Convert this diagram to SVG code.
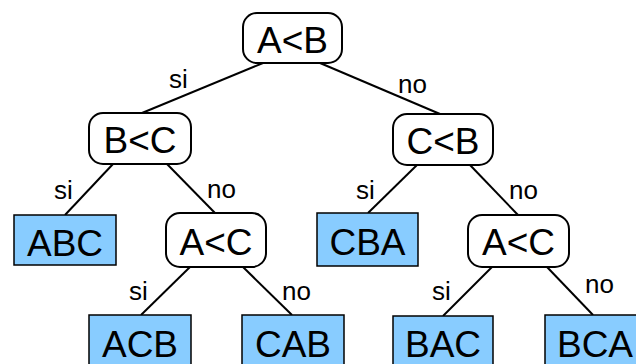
<svg xmlns="http://www.w3.org/2000/svg" width="636" height="364" viewBox="0 0 636 364">
<style>
.dec{fill:#ffffff;stroke:#000;stroke-width:2}
.leaf{fill:#88ccff;stroke:#000;stroke-width:1.5}
.t{font-family:"Liberation Sans",Arial,sans-serif;font-size:37px;text-anchor:middle;fill:#000}
.l{font-family:"Liberation Sans",Arial,sans-serif;font-size:26px;fill:#000}
.e{stroke:#000;stroke-width:2;fill:none}
</style>
<rect width="636" height="364" fill="#ffffff"/>
<g id="edges">
<line class="e" x1="263" y1="63" x2="142" y2="113"/>
<line class="e" x1="320" y1="63" x2="440" y2="114"/>
<line class="e" x1="113" y1="164" x2="65" y2="215"/>
<line class="e" x1="167" y1="164" x2="215" y2="213"/>
<line class="e" x1="417" y1="165" x2="368" y2="213"/>
<line class="e" x1="470" y1="165" x2="518" y2="215"/>
<line class="e" x1="190" y1="267" x2="141" y2="315"/>
<line class="e" x1="243" y1="267" x2="292" y2="315"/>
<line class="e" x1="492" y1="267" x2="443" y2="316"/>
<line class="e" x1="547" y1="267" x2="593" y2="315"/>
<text class="l" x="169" y="88">si</text>
<text class="l" x="398" y="93">no</text>
<text class="l" x="54" y="199">si</text>
<text class="l" x="207" y="198">no</text>
<text class="l" x="356" y="199">si</text>
<text class="l" x="509" y="199">no</text>
<text class="l" x="129" y="300">si</text>
<text class="l" x="282" y="300">no</text>
<text class="l" x="432" y="300">si</text>
<text class="l" x="585" y="293">no</text>
</g>
<g id="n_AB"><rect class="dec" x="243" y="13" width="99" height="50" rx="14"/><text class="t" x="292.5" y="53">A&lt;B</text></g>
<g id="n_BC"><rect class="dec" x="89" y="113" width="102" height="51" rx="14"/><text class="t" x="140" y="153">B&lt;C</text></g>
<g id="n_CB"><rect class="dec" x="393" y="114" width="100" height="51" rx="14"/><text class="t" x="443" y="154">C&lt;B</text></g>
<g id="n_AC1"><rect class="dec" x="166" y="213" width="100" height="54" rx="14"/><text class="t" x="216" y="255">A&lt;C</text></g>
<g id="n_AC2"><rect class="dec" x="468" y="215" width="101" height="52" rx="14"/><text class="t" x="518.5" y="255">A&lt;C</text></g>
<g id="l_ABC"><rect class="leaf" x="14" y="215" width="102" height="50"/><text class="t" x="65" y="256">ABC</text></g>
<g id="l_CBA"><rect class="leaf" x="317" y="213" width="101" height="53"/><text class="t" x="367.5" y="255">CBA</text></g>
<g id="l_ACB"><rect class="leaf" x="89" y="315" width="102" height="55"/><text class="t" x="140" y="357">ACB</text></g>
<g id="l_CAB"><rect class="leaf" x="242" y="315" width="102" height="55"/><text class="t" x="293" y="357">CAB</text></g>
<g id="l_BAC"><rect class="leaf" x="393" y="316" width="100" height="55"/><text class="t" x="443" y="357">BAC</text></g>
<g id="l_BCA"><rect class="leaf" x="545" y="315" width="101" height="55"/><text class="t" x="595" y="357">BCA</text></g>
</svg>
